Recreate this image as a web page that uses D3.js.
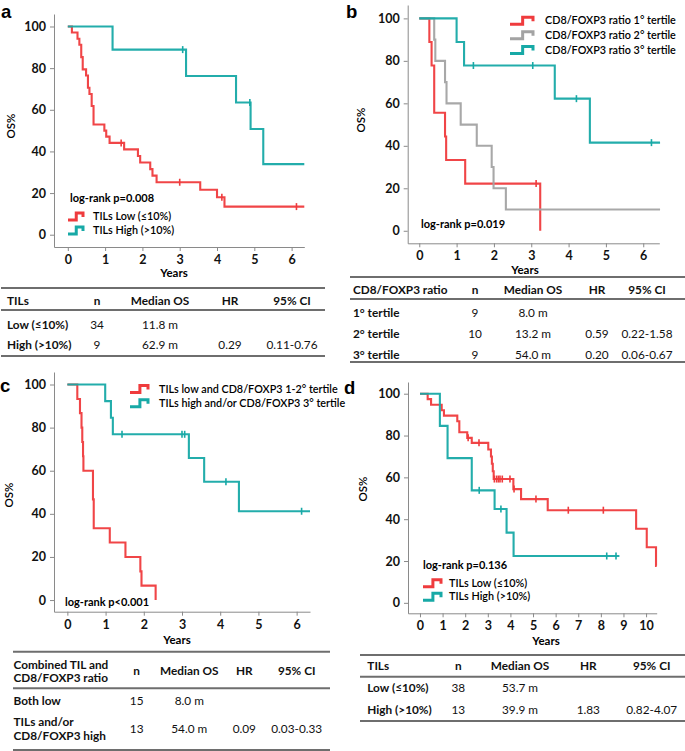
<!DOCTYPE html>
<html><head><meta charset="utf-8">
<script src="https://cdn.jsdelivr.net/npm/d3@7"></script>
<style>
body{margin:0;background:#fff;}
svg{font-family:Lato,'Open Sans',sans-serif;}
</style></head><body>
<svg id="fig" width="685" height="751"></svg>
<script>
// ---------- DATA ----------
const RED = "#ef3b3d", TEAL = "#17a9a6", GRAY = "#a3a3a3";

// Panel a
const aLowTime  = [0, 0.11, 0.26, 0.31, 0.36, 0.40, 0.49, 0.54, 0.58, 0.64, 0.69, 0.98, 1.03, 1.12, 1.51, 1.88, 1.94, 2.21, 2.27, 2.38, 3.55, 4.00, 4.20];
const aLowSurv  = [100, 97.1, 94.1, 91.2, 85.3, 79.4, 76.5, 70.6, 67.6, 61.8, 52.9, 50.0, 47.1, 44.1, 41.0, 37.8, 34.7, 31.5, 28.4, 25.2, 21.6, 18.0, 13.5];
const aLowCens  = [1.43, 3.0, 4.13, 6.13];
const aLowEnd   = 6.34;
const aHighTime = [0, 1.2, 3.17, 4.51, 4.9, 5.24];
const aHighSurv = [100, 88.9, 76.2, 63.5, 50.8, 33.9];
const aHighCens = [3.08, 4.88];
const aHighEnd  = 6.34;

// Panel b
const bT1Time = [0, 0.27, 0.33, 0.40, 0.69, 0.72, 1.23, 3.24];
const bT1Surv = [100, 88.9, 77.8, 55.6, 44.4, 33.3, 22.2, 0];
const bT1Cens = [3.13];
const bT1End  = 3.24;
const bT2Time = [0, 0.40, 0.43, 0.69, 0.73, 1.11, 1.54, 1.94, 1.99, 2.32];
const bT2Surv = [100, 90, 80, 70, 60, 50, 40, 30, 20, 10];
const bT2Cens = [];
const bT2End  = 6.45;
const bT3Time = [0, 1.0, 1.2, 3.63, 4.57];
const bT3Surv = [100, 88.9, 77.8, 62.2, 41.5];
const bT3Cens = [1.45, 3.04, 4.21, 6.22];
const bT3End  = 6.45;

// Panel c
const cLowTime  = [0, 0.26, 0.33, 0.37, 0.39, 0.41, 0.42, 0.67, 0.69, 1.11, 1.52, 1.91, 1.94, 2.31];
const cLowSurv  = [100, 93.3, 86.7, 80, 73.3, 66.7, 60, 46.7, 33.3, 26.7, 20, 13.3, 6.7, 0];
const cLowCens  = [];
const cLowEnd   = 2.31;
const cHighTime = [0, 0.99, 1.14, 1.19, 3.18, 3.58, 4.49];
const cHighSurv = [100, 92.3, 84.6, 76.9, 65.9, 54.9, 41.2];
const cHighCens = [1.43, 3.0, 3.07, 4.15, 6.13];
const cHighEnd  = 6.35;

// Panel d
const dLowTime  = [0, 0.34, 0.49, 0.96, 1.06, 1.65, 1.74, 2.09, 2.29, 3.02, 3.14, 3.18, 3.22, 3.26, 4.13, 4.47, 5.65, 9.56, 10.03, 10.44];
const dLowSurv  = [100, 97.4, 94.7, 92.1, 89.5, 86.8, 81.6, 78.9, 76.5, 73.3, 70.0, 66.5, 62.9, 59.2, 54.4, 49.6, 44.3, 35.4, 26.6, 17.7];
const dLowCens  = [2.13, 2.61, 3.29, 3.39, 3.47, 3.54, 3.64, 3.98, 4.16, 5.13, 6.56, 8.11];
const dLowEnd   = 10.47;
const dHighTime = [0, 0.88, 1.22, 2.29, 3.30, 3.83, 4.14];
const dHighSurv = [100, 84.6, 69.2, 53.8, 44.9, 33.6, 22.4];
const dHighCens = [2.62, 3.58, 8.26, 8.67];
const dHighEnd  = 8.82;

// tick labels
const yTicks = [0, 20, 40, 60, 80, 100];
const xTicks6 = [0, 1, 2, 3, 4, 5, 6];
const xTicks10 = [0, 1, 2, 3, 4, 5, 6, 7, 8, 9, 10];

// legends
const aLegend = ["TILs Low (\u226410%)", "TILs High (>10%)"];
const bLegend = ["CD8/FOXP3 ratio 1\u00b0 tertile", "CD8/FOXP3 ratio 2\u00b0 tertile", "CD8/FOXP3 ratio 3\u00b0 tertile"];
const cLegend = ["TILs low and CD8/FOXP3 1-2\u00b0 tertile", "TILs high and/or CD8/FOXP3 3\u00b0 tertile"];
const dLegend = ["TILs Low (\u226410%)", "TILs High (>10%)"];
const pValues = ["log-rank p=0.008", "log-rank p=0.019", "log-rank p<0.001", "log-rank p=0.136"];

// tables
const tHeadA = ["TILs", "n", "Median OS", "HR", "95% CI"];
const tRowsA = [["Low (\u226410%)", "34", "11.8 m", "", ""], ["High (>10%)", "9", "62.9 m", "0.29", "0.11-0.76"]];
const tHeadB = ["CD8/FOXP3 ratio", "n", "Median OS", "HR", "95% CI"];
const tRowsB = [["1\u00b0 tertile", "9", "8.0 m", "", ""], ["2\u00b0 tertile", "10", "13.2 m", "0.59", "0.22-1.58"], ["3\u00b0 tertile", "9", "54.0 m", "0.20", "0.06-0.67"]];
const tHeadC = ["Combined TIL and|CD8/FOXP3 ratio", "n", "Median OS", "HR", "95% CI"];
const tRowsC = [["Both low", "15", "8.0 m", "", ""], ["TILs and/or|CD8/FOXP3 high", "13", "54.0 m", "0.09", "0.03-0.33"]];
const tHeadD = ["TILs", "n", "Median OS", "HR", "95% CI"];
const tRowsD = [["Low (\u226410%)", "38", "53.7 m", "", ""], ["High (>10%)", "13", "39.9 m", "1.83", "0.82-4.07"]];

// ---------- DRAWING ----------
const svg = d3.select("#fig");

function mkSeries(time, surv, cens, end, color){
  return {time, surv, cens, end, color};
}

function panel(cfg){
  const g = svg.append("g");
  const x = d3.scaleLinear().domain(cfg.xDom).range(cfg.xRange);
  const y = d3.scaleLinear().domain(cfg.yDom).range(cfg.yRange);

  const yAx = g.append("g").attr("transform", `translate(${cfg.xRange[0]},0)`)
    .call(d3.axisLeft(y).tickValues(yTicks).tickFormat(d3.format("d")).tickSize(4).tickSizeOuter(0).tickPadding(4));
  const xAx = g.append("g").attr("transform", `translate(0,${cfg.yRange[0]})`)
    .call(d3.axisBottom(x).tickValues(cfg.xTicks).tickFormat(d3.format("d")).tickSize(4).tickSizeOuter(0).tickPadding(4));
  [yAx, xAx].forEach(a => {
    a.selectAll("path,line").attr("stroke", "#8a8a8a").attr("stroke-width", 1);
    a.selectAll("text").attr("font-size", 12.5).attr("font-weight", 700).attr("fill", "#111")
      .attr("font-family", "Lato, sans-serif");
  });

  const line = d3.line().x(d => x(d[0])).y(d => y(d[1])).curve(d3.curveStepAfter);
  cfg.series.forEach(s => {
    const pts = s.time.map((t, i) => [t, s.surv[i]]);
    pts.push([s.end, s.surv[s.surv.length - 1]]);
    g.append("path").attr("d", line(pts)).attr("fill", "none")
      .attr("stroke", s.color).attr("stroke-width", 2.1).attr("stroke-opacity", 0.95);
    s.cens.forEach(c => {
      let v = s.surv[0];
      s.time.forEach((t, i) => { if (t <= c) v = s.surv[i]; });
      g.append("line").attr("x1", x(c)).attr("x2", x(c))
        .attr("y1", y(v) - 3.5).attr("y2", y(v) + 3.5)
        .attr("stroke", s.color).attr("stroke-width", 1.6);
    });
  });

  // axis titles
  g.append("text").attr("transform", `translate(${cfg.osPos[0]},${cfg.osPos[1]}) rotate(-90)`)
    .attr("text-anchor", "middle").attr("dy", "0.35em")
    .attr("font-size", 11.5).attr("font-weight", 600).text("OS%");
  g.append("text").attr("x", cfg.yearsPos[0]).attr("y", cfg.yearsPos[1])
    .attr("text-anchor", "middle").attr("dy", "0.35em")
    .attr("font-size", 11.5).attr("font-weight", 700).text("Years");
  // panel letter
  g.append("text").attr("x", cfg.letterPos[0]).attr("y", cfg.letterPos[1])
    .attr("font-size", 18.5).attr("font-weight", 700).attr("font-family", "Arial, 'Liberation Sans', sans-serif").text(cfg.letter);
  // p-value
  g.append("text").attr("x", cfg.pPos[0]).attr("y", cfg.pPos[1]).attr("dy", "0.35em")
    .attr("font-size", 11).attr("font-weight", 700).text(cfg.pText);
  // legend
  cfg.legend.forEach((txt, i) => {
    const lx = cfg.legPos[0], ly = cfg.legPos[1] + i * cfg.legStep;
    const w = cfg.iconW;
    g.append("path")
      .attr("d", `M${lx},${ly+3.5} H${lx+w*0.55} V${ly-3.5} H${lx+w} V${ly+0.5}`)
      .attr("fill", "none").attr("stroke", cfg.series[i].color).attr("stroke-width", 3);
    g.append("text").attr("x", cfg.legTextX).attr("y", ly).attr("dy", "0.35em")
      .attr("font-size", 10.8).attr("font-weight", 600).text(txt);
  });
}

panel({
  xDom: [-0.37, 6.34], xRange: [54, 304.3], yDom: [-5.9, 106], yRange: [247, 14], xTicks: xTicks6,
  series: [mkSeries(aLowTime, aLowSurv, aLowCens, aLowEnd, RED), mkSeries(aHighTime, aHighSurv, aHighCens, aHighEnd, TEAL)],
  osPos: [11, 126], yearsPos: [174, 272.5], letter: "a", letterPos: [1, 17.5],
  pText: pValues[0], pPos: [70, 198],
  legend: aLegend, legPos: [68, 216.5], legStep: 14, legTextX: 93, iconW: 15
});
panel({
  xDom: [-0.31, 6.43], xRange: [407.7, 659.3], yDom: [-5.9, 106.3], yRange: [243.3, 5], xTicks: xTicks6,
  series: [mkSeries(bT1Time, bT1Surv, bT1Cens, bT1End, RED), mkSeries(bT2Time, bT2Surv, bT2Cens, bT2End, GRAY), mkSeries(bT3Time, bT3Surv, bT3Cens, bT3End, TEAL)],
  osPos: [361, 120], yearsPos: [525, 269.5], letter: "b", letterPos: [346, 17.5],
  pText: pValues[1], pPos: [421, 224],
  legend: bLegend, legPos: [510, 20.7], legStep: 14.6, legTextX: 545, iconW: 23
});
panel({
  xDom: [-0.35, 6.35], xRange: [54, 310], yDom: [-5.4, 105.8], yRange: [611.7, 372], xTicks: xTicks6,
  series: [mkSeries(cLowTime, cLowSurv, cLowCens, cLowEnd, RED), mkSeries(cHighTime, cHighSurv, cHighCens, cHighEnd, TEAL)],
  osPos: [9, 495], yearsPos: [177, 639.5], letter: "c", letterPos: [0, 392],
  pText: pValues[2], pPos: [65, 602],
  legend: cLegend, legPos: [130, 389], legStep: 14.3, legTextX: 159, iconW: 18
});
panel({
  xDom: [-0.53, 10.47], xRange: [408, 656.7], yDom: [-5.0, 105.6], yRange: [613.3, 382], xTicks: xTicks10,
  series: [mkSeries(dLowTime, dLowSurv, dLowCens, dLowEnd, RED), mkSeries(dHighTime, dHighSurv, dHighCens, dHighEnd, TEAL)],
  osPos: [363, 489], yearsPos: [546, 641], letter: "d", letterPos: [344, 394],
  pText: pValues[3], pPos: [423, 565],
  legend: dLegend, legPos: [423, 583.3], legStep: 13.4, legTextX: 449, iconW: 18
});

// tables
function table(cfg){
  const g = svg.append("g");
  cfg.lines.forEach(ly => g.append("line").attr("x1", cfg.x0).attr("x2", cfg.x1)
    .attr("y1", ly).attr("y2", ly).attr("stroke", "#6e6e6e").attr("stroke-width", 2));
  const put = (str, ci, yc, bold) => {
    const parts = str.split("|");
    const lh = 13.7;
    parts.forEach((p, k) => {
      g.append("text").attr("x", cfg.cols[ci]).attr("y", yc + (k - (parts.length - 1) / 2) * lh)
        .attr("dy", "0.35em").attr("text-anchor", ci === 0 ? "start" : "middle")
        .attr("font-size", 11.8).attr("font-weight", bold ? 700 : 400).attr("fill", "#111").text(p);
    });
  };
  cfg.head.forEach((h, i) => put(h, i, cfg.headY, true));
  cfg.rows.forEach((r, j) => r.forEach((c, i) => put(c, i, cfg.rowY[j], i === 0)));
}
table({x0: 1, x1: 325, lines: [288, 310, 356], cols: [7, 97, 160, 230, 292], head: tHeadA, headY: 300.5, rows: tRowsA, rowY: [325, 345]});
table({x0: 350, x1: 685, lines: [277, 299, 362], cols: [353, 475, 533, 597, 647], head: tHeadB, headY: 289.5, rows: tRowsB, rowY: [312.5, 333.5, 354.5]});
table({x0: 13, x1: 330, lines: [651.7, 688.3, 750], cols: [13.5, 136.7, 189.3, 244.3, 296.7], head: tHeadC, headY: 671.3, rows: tRowsC, rowY: [700.7, 729]});
table({x0: 360, x1: 685, lines: [655, 676.7, 721], cols: [367.3, 458.3, 520, 588.3, 651.7], head: tHeadD, headY: 666.2, rows: tRowsD, rowY: [688.3, 710]});
</script>
</body></html>
